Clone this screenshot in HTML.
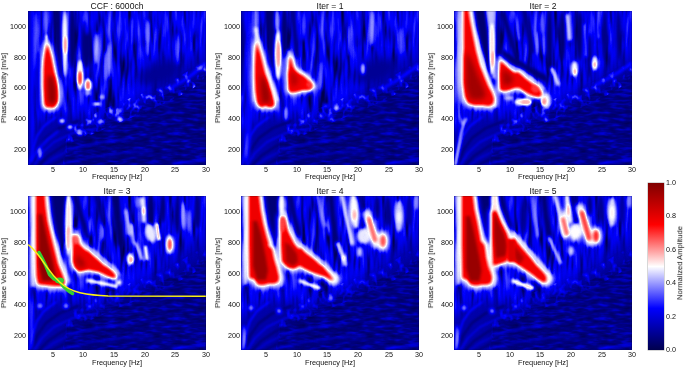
<!DOCTYPE html><html><head><meta charset="utf-8"><style>
html,body{margin:0;padding:0;background:#fff;width:685px;height:368px;overflow:hidden}
body{position:relative;font-family:"Liberation Sans",sans-serif;color:#111}
.pn{position:absolute;display:block}
.t{position:absolute;white-space:nowrap;line-height:1;will-change:transform}
.tk{font-size:7.2px}
.xt{transform:translate(-50%,-50%)}
.yt{transform:translate(-100%,-50%)}
.ttl{font-size:8.6px;transform:translate(-50%,0)}
.xl{font-size:7.4px;transform:translate(-50%,0)}
.yl{font-size:7.8px;transform:translate(-50%,-50%) rotate(-90deg)}
</style></head><body>
<svg width="0" height="0" style="position:absolute"><defs>
<filter id="cm" x="0" y="0" width="100%" height="100%" color-interpolation-filters="sRGB"><feComponentTransfer><feFuncR type="table" tableValues="0 0 1 1 0.5"/><feFuncG type="table" tableValues="0 0 1 0 0"/><feFuncB type="table" tableValues="0.3 1 1 0 0"/></feComponentTransfer><feGaussianBlur stdDeviation="0.45"/></filter>
<filter id="bl1_0" x="-50%" y="-50%" width="200%" height="200%" color-interpolation-filters="sRGB"><feGaussianBlur stdDeviation="1.0"/></filter>
<filter id="bl1_2" x="-50%" y="-50%" width="200%" height="200%" color-interpolation-filters="sRGB"><feGaussianBlur stdDeviation="1.2"/></filter>
<filter id="bl1_3" x="-50%" y="-50%" width="200%" height="200%" color-interpolation-filters="sRGB"><feGaussianBlur stdDeviation="1.3"/></filter>
<filter id="bl1_5" x="-50%" y="-50%" width="200%" height="200%" color-interpolation-filters="sRGB"><feGaussianBlur stdDeviation="1.5"/></filter>
<filter id="bl1_6" x="-50%" y="-50%" width="200%" height="200%" color-interpolation-filters="sRGB"><feGaussianBlur stdDeviation="1.6"/></filter>
<filter id="bl1_8" x="-50%" y="-50%" width="200%" height="200%" color-interpolation-filters="sRGB"><feGaussianBlur stdDeviation="1.8"/></filter>
<filter id="bl2_0" x="-50%" y="-50%" width="200%" height="200%" color-interpolation-filters="sRGB"><feGaussianBlur stdDeviation="2.0"/></filter>
<filter id="bl2_2" x="-50%" y="-50%" width="200%" height="200%" color-interpolation-filters="sRGB"><feGaussianBlur stdDeviation="2.2"/></filter>
<filter id="bl2_5" x="-50%" y="-50%" width="200%" height="200%" color-interpolation-filters="sRGB"><feGaussianBlur stdDeviation="2.5"/></filter>
<filter id="bl2_8" x="-50%" y="-50%" width="200%" height="200%" color-interpolation-filters="sRGB"><feGaussianBlur stdDeviation="2.8"/></filter>
<filter id="bl4" x="-50%" y="-50%" width="200%" height="200%" color-interpolation-filters="sRGB"><feGaussianBlur stdDeviation="4"/></filter>
<filter id="bl5" x="-50%" y="-50%" width="200%" height="200%" color-interpolation-filters="sRGB"><feGaussianBlur stdDeviation="5"/></filter>
<filter id="bl8" x="-50%" y="-50%" width="200%" height="200%" color-interpolation-filters="sRGB"><feGaussianBlur stdDeviation="8"/></filter>
<filter id="nvW" x="0" y="0" width="100%" height="100%" color-interpolation-filters="sRGB"><feTurbulence type="fractalNoise" baseFrequency="0.2 0.028" numOctaves="2" seed="7"/><feColorMatrix type="matrix" values="0 0 0 0 0.35 0 0 0 0 0.35 0 0 0 0 0.35 2.6 0 0 0 -1.3"/></filter>
<filter id="nvB" x="0" y="0" width="100%" height="100%" color-interpolation-filters="sRGB"><feTurbulence type="fractalNoise" baseFrequency="0.2 0.028" numOctaves="2" seed="7"/><feColorMatrix type="matrix" values="0 0 0 0 0.0 0 0 0 0 0.0 0 0 0 0 0.0 -3.5 0 0 0 1.75"/></filter>
<filter id="nhW" x="0" y="0" width="100%" height="100%" color-interpolation-filters="sRGB"><feTurbulence type="fractalNoise" baseFrequency="0.09 0.28" numOctaves="2" seed="11"/><feColorMatrix type="matrix" values="0 0 0 0 0.3 0 0 0 0 0.3 0 0 0 0 0.3 1.6 0 0 0 -0.8"/></filter>
<filter id="nhB" x="0" y="0" width="100%" height="100%" color-interpolation-filters="sRGB"><feTurbulence type="fractalNoise" baseFrequency="0.09 0.28" numOctaves="2" seed="11"/><feColorMatrix type="matrix" values="0 0 0 0 0.0 0 0 0 0 0.0 0 0 0 0 0.0 -2.0 0 0 0 1.0"/></filter>
<filter id="nsW" x="0" y="0" width="100%" height="100%" color-interpolation-filters="sRGB"><feTurbulence type="fractalNoise" baseFrequency="0.16 0.12" numOctaves="2" seed="5"/><feColorMatrix type="matrix" values="0 0 0 0 0.46 0 0 0 0 0.46 0 0 0 0 0.46 3.5 0 0 0 -1.75"/></filter>
</defs></svg>
<svg class="pn" style="left:28.0px;top:10.5px" width="178.0" height="154.2" viewBox="0 0 178.0 154.2">
<defs><clipPath id="cl0"><path d="M-5,159.2 L-5,175 L35,165 L40,125 L63,116 L90,104 L120,92 L150,78 L178,62 L185,58 L183.0,159.2Z"/></clipPath></defs>
<defs><clipPath id="bd0"><path d="M-5,163 L35,153 L40,113 L63,104 L90,92 L120,80 L150,66 L178,50 L185,46 L185,66 L178,70 L150,86 L120,100 L90,112 L63,124 L40,133 L35,173 L-5,183Z"/></clipPath></defs>
<g filter="url(#cm)">
<rect width="178.0" height="154.2" fill="rgb(51,51,51)"/>
<g>
<path d="M-5,-5 L183.0,-5 L183.0,159.2 L-5,159.2Z" fill="rgb(56,56,56)" opacity="1"/>
</g>
<g>
<rect width="178.0" height="154.2" filter="url(#nvW)" opacity="1.0"/>
<rect width="178.0" height="154.2" filter="url(#nvB)" opacity="1.0"/>
</g>
<g filter="url(#bl8)">
<path d="M60,130 L90,100 L120,80 L150,60 L185,35 L185,80 L120,110Z" fill="rgb(36,36,36)" opacity="1"/>
</g>
<g filter="url(#bl5)">
<path d="M-5,159.2 L-5,125 L10,112 L30,104 L60,108 L63,116 L90,104 L120,92 L150,78 L178,62 L185,58 L183.0,159.2Z" fill="rgb(33,33,33)" opacity="1"/>
</g>
<g filter="url(#bl5)">
<path d="M-5,159.2 L-5,175 L35,165 L40,125 L63,116 L90,104 L120,92 L150,78 L178,62 L185,58 L183.0,159.2Z" fill="rgb(20,20,20)" opacity="1"/>
</g>
<g>
<rect width="178.0" height="154.2" filter="url(#nhW)" opacity="1.0" clip-path="url(#cl0)"/>
<rect width="178.0" height="154.2" filter="url(#nhB)" opacity="1.0" clip-path="url(#cl0)"/>
</g>
<g>
<rect width="178.0" height="154.2" filter="url(#nsW)" opacity="0.75" clip-path="url(#bd0)"/>
</g>
<g filter="url(#bl1_2)">
<path d="M3,156 L9,140 L18,127 L32,117 L50,110" fill="none" stroke="rgb(15,15,15)" stroke-width="2.2" stroke-linecap="round" stroke-linejoin="round" opacity="1"/>
<path d="M9,157 L20,145 L35,135 L58,127 L85,122" fill="none" stroke="rgb(15,15,15)" stroke-width="2.2" stroke-linecap="round" stroke-linejoin="round" opacity="1"/>
<path d="M17,158 L34,149 L56,141 L85,136 L115,133" fill="none" stroke="rgb(15,15,15)" stroke-width="2.2" stroke-linecap="round" stroke-linejoin="round" opacity="1"/>
<path d="M28,159 L50,153 L75,148 L105,145 L140,143" fill="none" stroke="rgb(18,18,18)" stroke-width="2" stroke-linecap="round" stroke-linejoin="round" opacity="1"/>
<path d="M1,154 L4,140 L9,125 L16,115 L28,106" fill="none" stroke="rgb(76,76,76)" stroke-width="1.6" stroke-linecap="round" stroke-linejoin="round" opacity="1"/>
<path d="M5,156 L14,142 L26,131 L45,122 L70,117" fill="none" stroke="rgb(61,61,61)" stroke-width="1.5" stroke-linecap="round" stroke-linejoin="round" opacity="1"/>
<path d="M12,157 L26,147 L45,138 L70,132 L100,128" fill="none" stroke="rgb(54,54,54)" stroke-width="1.4" stroke-linecap="round" stroke-linejoin="round" opacity="1"/>
<path d="M22,158 L40,151 L65,146 L95,142 L125,140" fill="none" stroke="rgb(48,48,48)" stroke-width="1.3" stroke-linecap="round" stroke-linejoin="round" opacity="1"/>
<path d="M145,152 L178,149.5" fill="none" stroke="rgb(71,71,71)" stroke-width="1.5" stroke-linecap="round" stroke-linejoin="round" opacity="1"/>
</g>
<g filter="url(#bl1_5)">
<ellipse cx="1" cy="60" rx="1.5" ry="95" fill="rgb(20,20,20)" opacity="1"/>
<ellipse cx="4" cy="60" rx="2.5" ry="95" fill="rgb(64,64,64)" opacity="1"/>
<ellipse cx="8" cy="30" rx="2" ry="30" fill="rgb(87,87,87)" opacity="1"/>
<ellipse cx="10.5" cy="70" rx="2" ry="30" fill="rgb(26,26,26)" opacity="1"/>
<path d="M25,-3 L32,-3 L33,30 L33.5,66 L29,66 L27,30Z" fill="rgb(15,15,15)" opacity="1"/>
<ellipse cx="44.5" cy="27" rx="3.3" ry="30" fill="rgb(15,15,15)" opacity="1"/>
<ellipse cx="58.5" cy="33" rx="5" ry="24" fill="rgb(18,18,18)" opacity="1"/>
<ellipse cx="59" cy="12" rx="1.8" ry="12" fill="rgb(84,84,84)" opacity="1"/>
<ellipse cx="77.5" cy="55" rx="2.2" ry="15" fill="rgb(97,97,97)" opacity="1"/>
<ellipse cx="68.5" cy="37" rx="2.5" ry="16" fill="rgb(112,112,112)" opacity="1"/>
<ellipse cx="18.5" cy="12" rx="2.5" ry="14" fill="rgb(92,92,92)" opacity="1"/>
<ellipse cx="37" cy="32" rx="3.2" ry="34" fill="rgb(128,128,128)" opacity="1"/>
<ellipse cx="120" cy="20" rx="2" ry="12" fill="rgb(87,87,87)" opacity="1"/>
</g>
<g filter="url(#bl1_2)">
<ellipse cx="37.3" cy="34" rx="1.7" ry="9" fill="rgb(153,153,153)" opacity="1"/>
<ellipse cx="52" cy="64" rx="3.8" ry="15" fill="rgb(128,128,128)" opacity="1"/>
<ellipse cx="60" cy="74" rx="3.8" ry="7" fill="rgb(128,128,128)" opacity="1"/>
<path d="M18.5,25 L19,38" fill="none" stroke="rgb(128,128,128)" stroke-width="3" stroke-linecap="round" stroke-linejoin="round" opacity="1"/>
</g>
<g filter="url(#bl1_0)">
<ellipse cx="52" cy="67" rx="2.1" ry="7" fill="rgb(178,178,178)" opacity="1"/>
<ellipse cx="60" cy="74.5" rx="2" ry="4.5" fill="rgb(168,168,168)" opacity="1"/>
</g>
<g filter="url(#bl2_8)">
<path d="M19,33 L21,38 L23,45 L24.5,52 L26.5,62 L28.5,72 L29.5,82 L29.5,90 L27.5,95 L24,97 L21.5,95.5 L19,97 L16.5,94 L16,86 L15.5,74 L15.5,60 L16,50 L17,42Z" fill="rgb(128,128,128)" stroke="rgb(128,128,128)" stroke-width="7.4" stroke-linejoin="round" opacity="1"/>
</g>
<g filter="url(#bl1_5)">
<path d="M19,33 L21,38 L23,45 L24.5,52 L26.5,62 L28.5,72 L29.5,82 L29.5,90 L27.5,95 L24,97 L21.5,95.5 L19,97 L16.5,94 L16,86 L15.5,74 L15.5,60 L16,50 L17,42Z" fill="rgb(199,199,199)" opacity="1"/>
</g>
<g filter="url(#bl2_0)">
<path d="M20,64 L25,66 L28,78 L28,90 L24,94 L20,90 L19.5,75Z" fill="rgb(245,245,245)" opacity="1"/>
</g>
<g filter="url(#bl1_5)">
<ellipse cx="34" cy="110" rx="3" ry="2.5" fill="rgb(128,128,128)" opacity="1"/>
<ellipse cx="42" cy="116" rx="3" ry="2.5" fill="rgb(122,122,122)" opacity="1"/>
<ellipse cx="52" cy="122" rx="3" ry="2.5" fill="rgb(115,115,115)" opacity="1"/>
<ellipse cx="69" cy="93" rx="4" ry="2.5" fill="rgb(128,128,128)" opacity="1"/>
<ellipse cx="72" cy="111" rx="3" ry="2.5" fill="rgb(107,107,107)" opacity="1"/>
<ellipse cx="74" cy="86" rx="3" ry="2" fill="rgb(115,115,115)" opacity="1"/>
<ellipse cx="83" cy="100" rx="3" ry="2.5" fill="rgb(107,107,107)" opacity="1"/>
<ellipse cx="60" cy="82" rx="3" ry="3" fill="rgb(107,107,107)" opacity="1"/>
<ellipse cx="92" cy="108" rx="3.5" ry="2.5" fill="rgb(122,122,122)" opacity="1"/>
<ellipse cx="92" cy="100" rx="2.5" ry="2.5" fill="rgb(102,102,102)" opacity="1"/>
<path d="M3,150 L10,138 L20,128 L30,120" fill="none" stroke="rgb(82,82,82)" stroke-width="2" stroke-linecap="round" stroke-linejoin="round" opacity="1"/>
<ellipse cx="12" cy="142" rx="2" ry="6" fill="rgb(107,107,107)" opacity="1"/>
<path d="M142,77 L155,70 L165,63 L178,52" fill="none" stroke="rgb(84,84,84)" stroke-width="2.5" stroke-linecap="round" stroke-linejoin="round" opacity="1"/>
<ellipse cx="172" cy="57" rx="3" ry="2.5" fill="rgb(102,102,102)" opacity="1"/>
</g>
<g filter="url(#bl4)">
<ellipse cx="132" cy="62" rx="22" ry="12" fill="rgb(26,26,26)" opacity="1" transform="rotate(-20 132 62)"/>
</g>
<g filter="url(#bl1_5)">
<ellipse cx="81" cy="50" rx="2.3" ry="18" fill="rgb(102,102,102)" opacity="1"/>
<ellipse cx="120" cy="28" rx="2" ry="18" fill="rgb(97,97,97)" opacity="1"/>
<ellipse cx="150" cy="38" rx="2" ry="16" fill="rgb(92,92,92)" opacity="1"/>
<ellipse cx="104" cy="20" rx="2" ry="14" fill="rgb(87,87,87)" opacity="1"/>
</g>
</g>

<rect x="0.25" y="0.25" width="177.5" height="153.7" fill="none" stroke="rgba(0,0,0,0.35)" stroke-width="0.5"/>
</svg>
<div class="t ttl" style="left:117.0px;top:1.52px">CCF : 6000ch</div>
<div class="t tk xt" style="left:52.55px;top:169.60px">5</div>
<div class="t tk xt" style="left:83.24px;top:169.60px">10</div>
<div class="t tk xt" style="left:113.93px;top:169.60px">15</div>
<div class="t tk xt" style="left:144.62px;top:169.60px">20</div>
<div class="t tk xt" style="left:175.31px;top:169.60px">25</div>
<div class="t tk xt" style="left:206.00px;top:169.60px">30</div>
<div class="t tk yt" style="left:26.20px;top:150.08px">200</div>
<div class="t tk yt" style="left:26.20px;top:119.24px">400</div>
<div class="t tk yt" style="left:26.20px;top:88.40px">600</div>
<div class="t tk yt" style="left:26.20px;top:57.56px">800</div>
<div class="t tk yt" style="left:26.20px;top:26.72px">1000</div>
<div class="t xl" style="left:117.0px;top:173.38px">Frequency [Hz]</div>
<div class="t yl" style="left:4.25px;top:87.60px">Phase Velocity [m/s]</div>
<svg class="pn" style="left:241.3px;top:10.5px" width="178.0" height="154.2" viewBox="0 0 178.0 154.2">
<defs><clipPath id="cl1"><path d="M-5,159.2 L-5,175 L35,165 L40,125 L63,116 L90,104 L120,92 L150,78 L178,62 L185,58 L183.0,159.2Z"/></clipPath></defs>
<defs><clipPath id="bd1"><path d="M-5,163 L35,153 L40,113 L63,104 L90,92 L120,80 L150,66 L178,50 L185,46 L185,66 L178,70 L150,86 L120,100 L90,112 L63,124 L40,133 L35,173 L-5,183Z"/></clipPath></defs>
<g filter="url(#cm)">
<rect width="178.0" height="154.2" fill="rgb(51,51,51)"/>
<g>
<path d="M-5,-5 L183.0,-5 L183.0,159.2 L-5,159.2Z" fill="rgb(56,56,56)" opacity="1"/>
</g>
<g>
<rect width="178.0" height="154.2" filter="url(#nvW)" opacity="1.0"/>
<rect width="178.0" height="154.2" filter="url(#nvB)" opacity="1.0"/>
</g>
<g filter="url(#bl8)">
<path d="M60,130 L90,100 L120,80 L150,60 L185,35 L185,80 L120,110Z" fill="rgb(36,36,36)" opacity="1"/>
</g>
<g filter="url(#bl5)">
<path d="M-5,159.2 L-5,125 L10,112 L30,104 L60,108 L63,116 L90,104 L120,92 L150,78 L178,62 L185,58 L183.0,159.2Z" fill="rgb(33,33,33)" opacity="1"/>
</g>
<g filter="url(#bl5)">
<path d="M-5,159.2 L-5,175 L35,165 L40,125 L63,116 L90,104 L120,92 L150,78 L178,62 L185,58 L183.0,159.2Z" fill="rgb(20,20,20)" opacity="1"/>
</g>
<g>
<rect width="178.0" height="154.2" filter="url(#nhW)" opacity="1.0" clip-path="url(#cl1)"/>
<rect width="178.0" height="154.2" filter="url(#nhB)" opacity="1.0" clip-path="url(#cl1)"/>
</g>
<g>
<rect width="178.0" height="154.2" filter="url(#nsW)" opacity="0.6" clip-path="url(#bd1)"/>
</g>
<g filter="url(#bl1_2)">
<path d="M3,156 L9,140 L18,127 L32,117 L50,110" fill="none" stroke="rgb(15,15,15)" stroke-width="2.2" stroke-linecap="round" stroke-linejoin="round" opacity="1"/>
<path d="M9,157 L20,145 L35,135 L58,127 L85,122" fill="none" stroke="rgb(15,15,15)" stroke-width="2.2" stroke-linecap="round" stroke-linejoin="round" opacity="1"/>
<path d="M17,158 L34,149 L56,141 L85,136 L115,133" fill="none" stroke="rgb(15,15,15)" stroke-width="2.2" stroke-linecap="round" stroke-linejoin="round" opacity="1"/>
<path d="M28,159 L50,153 L75,148 L105,145 L140,143" fill="none" stroke="rgb(18,18,18)" stroke-width="2" stroke-linecap="round" stroke-linejoin="round" opacity="1"/>
<path d="M1,154 L4,140 L9,125 L16,115 L28,106" fill="none" stroke="rgb(76,76,76)" stroke-width="1.6" stroke-linecap="round" stroke-linejoin="round" opacity="1"/>
<path d="M5,156 L14,142 L26,131 L45,122 L70,117" fill="none" stroke="rgb(61,61,61)" stroke-width="1.5" stroke-linecap="round" stroke-linejoin="round" opacity="1"/>
<path d="M12,157 L26,147 L45,138 L70,132 L100,128" fill="none" stroke="rgb(54,54,54)" stroke-width="1.4" stroke-linecap="round" stroke-linejoin="round" opacity="1"/>
<path d="M22,158 L40,151 L65,146 L95,142 L125,140" fill="none" stroke="rgb(48,48,48)" stroke-width="1.3" stroke-linecap="round" stroke-linejoin="round" opacity="1"/>
<path d="M145,152 L178,149.5" fill="none" stroke="rgb(71,71,71)" stroke-width="1.5" stroke-linecap="round" stroke-linejoin="round" opacity="1"/>
</g>
<g filter="url(#bl1_5)">
<ellipse cx="1" cy="40" rx="2" ry="45" fill="rgb(15,15,15)" opacity="1"/>
<ellipse cx="7.5" cy="70" rx="3" ry="80" fill="rgb(66,66,66)" opacity="1"/>
<ellipse cx="14.5" cy="12" rx="2.2" ry="20" fill="rgb(102,102,102)" opacity="1"/>
<path d="M24,-3 L33,-3 L35,20 L36,45 L35,62 L30,55 L27,35Z" fill="rgb(15,15,15)" opacity="1"/>
<ellipse cx="37" cy="43" rx="4" ry="26" fill="rgb(133,133,133)" opacity="1"/>
<ellipse cx="36" cy="10" rx="2.8" ry="12" fill="rgb(102,102,102)" opacity="1"/>
<ellipse cx="43.5" cy="22" rx="3.5" ry="25" fill="rgb(15,15,15)" opacity="1"/>
<path d="M52,0 L54,25 L56,45" fill="none" stroke="rgb(18,18,18)" stroke-width="4" stroke-linecap="round" stroke-linejoin="round" opacity="1"/>
<ellipse cx="62" cy="15" rx="2" ry="15" fill="rgb(87,87,87)" opacity="1"/>
<ellipse cx="80" cy="65" rx="2" ry="15" fill="rgb(97,97,97)" opacity="1"/>
<ellipse cx="44.7" cy="103" rx="2" ry="7" fill="rgb(107,107,107)" opacity="1"/>
<ellipse cx="80" cy="105" rx="2.5" ry="2" fill="rgb(102,102,102)" opacity="1"/>
<ellipse cx="85" cy="95" rx="2.5" ry="2" fill="rgb(102,102,102)" opacity="1"/>
<ellipse cx="5" cy="138" rx="1.5" ry="17" fill="rgb(87,87,87)" opacity="1"/>
<ellipse cx="131" cy="17" rx="2" ry="18" fill="rgb(92,92,92)" opacity="1"/>
<ellipse cx="122" cy="60" rx="2" ry="5" fill="rgb(107,107,107)" opacity="1"/>
<path d="M142,77 L155,70 L165,63 L178,54" fill="none" stroke="rgb(84,84,84)" stroke-width="2.5" stroke-linecap="round" stroke-linejoin="round" opacity="1"/>
<ellipse cx="95.6" cy="97" rx="2.5" ry="3" fill="rgb(120,120,120)" opacity="1"/>
<ellipse cx="90" cy="108" rx="2.5" ry="2" fill="rgb(102,102,102)" opacity="1"/>
</g>
<g filter="url(#bl1_2)">
<ellipse cx="37.5" cy="43" rx="1.9" ry="13" fill="rgb(153,153,153)" opacity="1"/>
</g>
<g filter="url(#bl1_8)">
<path d="M15,18 L17,30 L20,42 L24,54 L28.5,66 L32.5,78 L36,89" fill="none" stroke="rgb(128,128,128)" stroke-width="4" stroke-linecap="round" stroke-linejoin="round" opacity="1"/>
<path d="M47.5,40 L51,50 L55,58 L61,61 L66,65.5 L70.5,70 L73.5,76" fill="none" stroke="rgb(128,128,128)" stroke-width="2.5" stroke-linecap="round" stroke-linejoin="round" opacity="1"/>
<path d="M13,34 L12.5,60 L13,90" fill="none" stroke="rgb(128,128,128)" stroke-width="1.5" stroke-linecap="round" stroke-linejoin="round" opacity="1"/>
</g>
<g filter="url(#bl2_8)">
<path d="M15.5,31 L17,36 L19,42 L22,54 L25,66 L28,77 L32,88 L33.5,93 L32,96 L27,96 L24.5,93.5 L22,96 L18.5,95.5 L16,91 L14.5,80 L14,66 L14,54 L14.5,42Z" fill="rgb(128,128,128)" stroke="rgb(128,128,128)" stroke-width="7.4" stroke-linejoin="round" opacity="1"/>
</g>
<g filter="url(#bl1_5)">
<path d="M15.5,31 L17,36 L19,42 L22,54 L25,66 L28,77 L32,88 L33.5,93 L32,96 L27,96 L24.5,93.5 L22,96 L18.5,95.5 L16,91 L14.5,80 L14,66 L14,54 L14.5,42Z" fill="rgb(201,201,201)" opacity="1"/>
</g>
<g filter="url(#bl2_5)">
<path d="M19.5,63 L25,70 L29,82 L29,92 L21,92 L19.5,78Z" fill="rgb(242,242,242)" opacity="1"/>
</g>
<g filter="url(#bl2_8)">
<path d="M48.5,45.5 L50.5,49 L52,55 L54.5,60 L58.5,63 L62,64.5 L66.5,68.5 L70,72.5 L71.5,76.5 L68,79 L62,79 L55,81 L49.5,81.5 L47.5,79 L47.5,60Z" fill="rgb(128,128,128)" stroke="rgb(128,128,128)" stroke-width="7.0" stroke-linejoin="round" opacity="1"/>
</g>
<g filter="url(#bl1_5)">
<path d="M48.5,45.5 L50.5,49 L52,55 L54.5,60 L58.5,63 L62,64.5 L66.5,68.5 L70,72.5 L71.5,76.5 L68,79 L62,79 L55,81 L49.5,81.5 L47.5,79 L47.5,60Z" fill="rgb(199,199,199)" opacity="1"/>
</g>
<g filter="url(#bl2_5)">
<path d="M49,60 L55,64 L57,72 L51,76Z" fill="rgb(230,230,230)" opacity="1"/>
</g>
<g filter="url(#bl1_5)">
<ellipse cx="68" cy="74" rx="3.5" ry="3" fill="rgb(178,178,178)" opacity="1" transform="rotate(40 68 74)"/>
</g>
<g filter="url(#bl4)">
<ellipse cx="135" cy="60" rx="22" ry="12" fill="rgb(26,26,26)" opacity="1" transform="rotate(-20 135 60)"/>
</g>
<g filter="url(#bl1_5)">
<ellipse cx="131" cy="17" rx="2.3" ry="18" fill="rgb(102,102,102)" opacity="1"/>
<ellipse cx="122" cy="58" rx="2.3" ry="6" fill="rgb(115,115,115)" opacity="1"/>
<ellipse cx="108" cy="30" rx="2" ry="15" fill="rgb(89,89,89)" opacity="1"/>
<ellipse cx="160" cy="30" rx="2" ry="14" fill="rgb(89,89,89)" opacity="1"/>
</g>
</g>

<rect x="0.25" y="0.25" width="177.5" height="153.7" fill="none" stroke="rgba(0,0,0,0.35)" stroke-width="0.5"/>
</svg>
<div class="t ttl" style="left:330.3px;top:1.52px">Iter = 1</div>
<div class="t tk xt" style="left:265.85px;top:169.60px">5</div>
<div class="t tk xt" style="left:296.54px;top:169.60px">10</div>
<div class="t tk xt" style="left:327.23px;top:169.60px">15</div>
<div class="t tk xt" style="left:357.92px;top:169.60px">20</div>
<div class="t tk xt" style="left:388.61px;top:169.60px">25</div>
<div class="t tk xt" style="left:419.30px;top:169.60px">30</div>
<div class="t tk yt" style="left:239.50px;top:150.08px">200</div>
<div class="t tk yt" style="left:239.50px;top:119.24px">400</div>
<div class="t tk yt" style="left:239.50px;top:88.40px">600</div>
<div class="t tk yt" style="left:239.50px;top:57.56px">800</div>
<div class="t tk yt" style="left:239.50px;top:26.72px">1000</div>
<div class="t xl" style="left:330.3px;top:173.38px">Frequency [Hz]</div>
<div class="t yl" style="left:217.55px;top:87.60px">Phase Velocity [m/s]</div>
<svg class="pn" style="left:454.4px;top:10.5px" width="178.0" height="154.2" viewBox="0 0 178.0 154.2">
<defs><clipPath id="cl2"><path d="M-5,159.2 L-5,175 L35,165 L40,125 L63,116 L90,104 L120,92 L150,78 L178,62 L185,58 L183.0,159.2Z"/></clipPath></defs>
<defs><clipPath id="bd2"><path d="M-5,163 L35,153 L40,113 L63,104 L90,92 L120,80 L150,66 L178,50 L185,46 L185,66 L178,70 L150,86 L120,100 L90,112 L63,124 L40,133 L35,173 L-5,183Z"/></clipPath></defs>
<g filter="url(#cm)">
<rect width="178.0" height="154.2" fill="rgb(51,51,51)"/>
<g>
<path d="M-5,-5 L183.0,-5 L183.0,159.2 L-5,159.2Z" fill="rgb(56,56,56)" opacity="1"/>
</g>
<g>
<rect width="178.0" height="154.2" filter="url(#nvW)" opacity="1.0"/>
<rect width="178.0" height="154.2" filter="url(#nvB)" opacity="1.0"/>
</g>
<g filter="url(#bl8)">
<path d="M60,130 L90,100 L120,80 L150,60 L185,35 L185,80 L120,110Z" fill="rgb(36,36,36)" opacity="1"/>
</g>
<g filter="url(#bl5)">
<path d="M-5,159.2 L-5,125 L10,112 L30,104 L60,108 L63,116 L90,104 L120,92 L150,78 L178,62 L185,58 L183.0,159.2Z" fill="rgb(33,33,33)" opacity="1"/>
</g>
<g filter="url(#bl5)">
<path d="M-5,159.2 L-5,175 L35,165 L40,125 L63,116 L90,104 L120,92 L150,78 L178,62 L185,58 L183.0,159.2Z" fill="rgb(20,20,20)" opacity="1"/>
</g>
<g>
<rect width="178.0" height="154.2" filter="url(#nhW)" opacity="1.0" clip-path="url(#cl2)"/>
<rect width="178.0" height="154.2" filter="url(#nhB)" opacity="1.0" clip-path="url(#cl2)"/>
</g>
<g>
<rect width="178.0" height="154.2" filter="url(#nsW)" opacity="0.6" clip-path="url(#bd2)"/>
</g>
<g filter="url(#bl1_2)">
<path d="M3,156 L9,140 L18,127 L32,117 L50,110" fill="none" stroke="rgb(15,15,15)" stroke-width="2.2" stroke-linecap="round" stroke-linejoin="round" opacity="1"/>
<path d="M9,157 L20,145 L35,135 L58,127 L85,122" fill="none" stroke="rgb(15,15,15)" stroke-width="2.2" stroke-linecap="round" stroke-linejoin="round" opacity="1"/>
<path d="M17,158 L34,149 L56,141 L85,136 L115,133" fill="none" stroke="rgb(15,15,15)" stroke-width="2.2" stroke-linecap="round" stroke-linejoin="round" opacity="1"/>
<path d="M28,159 L50,153 L75,148 L105,145 L140,143" fill="none" stroke="rgb(18,18,18)" stroke-width="2" stroke-linecap="round" stroke-linejoin="round" opacity="1"/>
<path d="M1,154 L4,140 L9,125 L16,115 L28,106" fill="none" stroke="rgb(76,76,76)" stroke-width="1.6" stroke-linecap="round" stroke-linejoin="round" opacity="1"/>
<path d="M5,156 L14,142 L26,131 L45,122 L70,117" fill="none" stroke="rgb(61,61,61)" stroke-width="1.5" stroke-linecap="round" stroke-linejoin="round" opacity="1"/>
<path d="M12,157 L26,147 L45,138 L70,132 L100,128" fill="none" stroke="rgb(54,54,54)" stroke-width="1.4" stroke-linecap="round" stroke-linejoin="round" opacity="1"/>
<path d="M22,158 L40,151 L65,146 L95,142 L125,140" fill="none" stroke="rgb(48,48,48)" stroke-width="1.3" stroke-linecap="round" stroke-linejoin="round" opacity="1"/>
<path d="M145,152 L178,149.5" fill="none" stroke="rgb(71,71,71)" stroke-width="1.5" stroke-linecap="round" stroke-linejoin="round" opacity="1"/>
</g>
<g filter="url(#bl1_5)">
<ellipse cx="5" cy="48" rx="2.6" ry="55" fill="rgb(107,107,107)" opacity="1"/>
<path d="M1.5,154 L4,140 L6.5,125 L9,115 L12,108" fill="none" stroke="rgb(122,122,122)" stroke-width="3" stroke-linecap="round" stroke-linejoin="round" opacity="1"/>
<path d="M5,95 L5.5,105 L8,113" fill="none" stroke="rgb(102,102,102)" stroke-width="3" stroke-linecap="round" stroke-linejoin="round" opacity="1"/>
<path d="M20,-3 L31,-3 L34,20 L38,45 L41,70 L40,80 L35,62 L28,40 L23,20Z" fill="rgb(13,13,13)" opacity="1"/>
<path d="M31,-3 L42,-3 L41,20 L41,50 L42,68 L38,68 L36,45 L34,20Z" fill="rgb(112,112,112)" opacity="1"/>
<ellipse cx="44.5" cy="38" rx="2.2" ry="40" fill="rgb(15,15,15)" opacity="1"/>
<path d="M49,3 L55,22 L62,45" fill="none" stroke="rgb(18,18,18)" stroke-width="5" stroke-linecap="round" stroke-linejoin="round" opacity="1"/>
<path d="M60,0 L63,15 L65,28" fill="none" stroke="rgb(92,92,92)" stroke-width="3" stroke-linecap="round" stroke-linejoin="round" opacity="1"/>
<path d="M70,0 L74,20 L78,40" fill="none" stroke="rgb(23,23,23)" stroke-width="5" stroke-linecap="round" stroke-linejoin="round" opacity="1"/>
<ellipse cx="83" cy="32" rx="2" ry="12" fill="rgb(97,97,97)" opacity="1"/>
<ellipse cx="88" cy="12" rx="2" ry="12" fill="rgb(92,92,92)" opacity="1"/>
<ellipse cx="95.5" cy="28" rx="3" ry="30" fill="rgb(15,15,15)" opacity="1"/>
<ellipse cx="108.5" cy="25" rx="3" ry="25" fill="rgb(15,15,15)" opacity="1"/>
<ellipse cx="125.5" cy="25" rx="3" ry="25" fill="rgb(15,15,15)" opacity="1"/>
<ellipse cx="135.5" cy="45" rx="2" ry="22" fill="rgb(18,18,18)" opacity="1"/>
<ellipse cx="150.8" cy="25" rx="2.5" ry="25" fill="rgb(18,18,18)" opacity="1"/>
<ellipse cx="164.7" cy="25" rx="2.5" ry="25" fill="rgb(20,20,20)" opacity="1"/>
<path d="M113.5,5 L114.5,15 L115.5,28" fill="none" stroke="rgb(120,120,120)" stroke-width="4.5" stroke-linecap="round" stroke-linejoin="round" opacity="1"/>
<ellipse cx="120.5" cy="58" rx="3.5" ry="8" fill="rgb(128,128,128)" opacity="1"/>
<ellipse cx="140.7" cy="52.5" rx="3.5" ry="7.5" fill="rgb(128,128,128)" opacity="1"/>
<path d="M130.5,14 L131.5,30 L132,45" fill="none" stroke="rgb(102,102,102)" stroke-width="3" stroke-linecap="round" stroke-linejoin="round" opacity="1"/>
<path d="M144,0 L144,13 L144.5,27" fill="none" stroke="rgb(97,97,97)" stroke-width="3" stroke-linecap="round" stroke-linejoin="round" opacity="1"/>
<path d="M98,58 L101,65 L104,73" fill="none" stroke="rgb(122,122,122)" stroke-width="4.5" stroke-linecap="round" stroke-linejoin="round" opacity="1"/>
<ellipse cx="90" cy="34" rx="2" ry="11" fill="rgb(92,92,92)" opacity="1"/>
<ellipse cx="92" cy="108" rx="2.5" ry="2" fill="rgb(107,107,107)" opacity="1"/>
<path d="M142,74 L155,67 L165,61 L178,52" fill="none" stroke="rgb(84,84,84)" stroke-width="2.5" stroke-linecap="round" stroke-linejoin="round" opacity="1"/>
</g>
<g filter="url(#bl1_2)">
<ellipse cx="38" cy="38" rx="3" ry="26" fill="rgb(133,133,133)" opacity="1"/>
<ellipse cx="39" cy="48" rx="1.8" ry="8" fill="rgb(153,153,153)" opacity="1"/>
<ellipse cx="121" cy="60.7" rx="1.3" ry="3" fill="rgb(153,153,153)" opacity="1"/>
<ellipse cx="140.7" cy="53.8" rx="1.3" ry="3" fill="rgb(153,153,153)" opacity="1"/>
</g>
<g filter="url(#bl1_8)">
<path d="M16,-2 L19,15 L23,30 L27,45 L31,60 L35,72 L39,82 L41,95" fill="none" stroke="rgb(128,128,128)" stroke-width="4" stroke-linecap="round" stroke-linejoin="round" opacity="1"/>
<path d="M45,45.5 L51,49.5 L57,54.5 L63,57 L67,59.5 L74,65 L82,70.5 L90,78" fill="none" stroke="rgb(128,128,128)" stroke-width="2.2" stroke-linecap="round" stroke-linejoin="round" opacity="1"/>
<ellipse cx="69" cy="91" rx="9" ry="4" fill="rgb(133,133,133)" opacity="1"/>
<ellipse cx="55" cy="87" rx="5" ry="2" fill="rgb(115,115,115)" opacity="1"/>
<ellipse cx="92" cy="90" rx="5" ry="8" fill="rgb(122,122,122)" opacity="1"/>
<path d="M8.5,0 L8.5,92" fill="none" stroke="rgb(128,128,128)" stroke-width="1.5" stroke-linecap="round" stroke-linejoin="round" opacity="1"/>
</g>
<g filter="url(#bl1_2)">
<ellipse cx="72" cy="91" rx="5" ry="2.5" fill="rgb(148,148,148)" opacity="1"/>
<ellipse cx="90" cy="90" rx="2.5" ry="4" fill="rgb(158,158,158)" opacity="1"/>
</g>
<g filter="url(#bl2_8)">
<path d="M10,-3 L14,-3 L16,10 L19,25 L22,40 L26,55 L30,65 L34,75 L38,82 L40,88 L39,93 L35,95 L28,94 L20,94 L14,92 L11,85 L10,70 L10,50 L10,20Z" fill="rgb(128,128,128)" stroke="rgb(128,128,128)" stroke-width="8.0" stroke-linejoin="round" opacity="1"/>
</g>
<g filter="url(#bl1_5)">
<path d="M10,-3 L14,-3 L16,10 L19,25 L22,40 L26,55 L30,65 L34,75 L38,82 L40,88 L39,93 L35,95 L28,94 L20,94 L14,92 L11,85 L10,70 L10,50 L10,20Z" fill="rgb(199,199,199)" opacity="1"/>
</g>
<g filter="url(#bl2_5)">
<path d="M12,40 L18,50 L24,65 L30,78 L32,86 L25,89 L16,88 L12,75Z" fill="rgb(237,237,237)" opacity="1"/>
</g>
<g filter="url(#bl1_5)">
<path d="M48,38 L60,46 L75,55 L92,64 L95,72 L85,68 L72,60 L58,54 L48,48Z" fill="rgb(15,15,15)" opacity="1"/>
</g>
<g filter="url(#bl2_8)">
<path d="M46,49.5 L50,53 L55,58 L60,62 L64,61 L68,64.5 L72,68 L76,71 L80,74 L84,77.5 L87,80.5 L88,84 L85,86 L80,85 L75,83 L70,80 L65,76.5 L60,77 L55,79 L50,80 L46,79Z" fill="rgb(128,128,128)" stroke="rgb(128,128,128)" stroke-width="7.4" stroke-linejoin="round" opacity="1"/>
</g>
<g filter="url(#bl1_5)">
<path d="M46,49.5 L50,53 L55,58 L60,62 L64,61 L68,64.5 L72,68 L76,71 L80,74 L84,77.5 L87,80.5 L88,84 L85,86 L80,85 L75,83 L70,80 L65,76.5 L60,77 L55,79 L50,80 L46,79Z" fill="rgb(199,199,199)" opacity="1"/>
</g>
<g filter="url(#bl2_5)">
<path d="M48,58 L55,62 L60,68 L56,74 L49,74Z" fill="rgb(235,235,235)" opacity="1"/>
</g>
<g filter="url(#bl1_5)">
<ellipse cx="81" cy="78" rx="5" ry="4" fill="rgb(178,178,178)" opacity="1" transform="rotate(40 81 78)"/>
</g>
</g>

<rect x="0.25" y="0.25" width="177.5" height="153.7" fill="none" stroke="rgba(0,0,0,0.35)" stroke-width="0.5"/>
</svg>
<div class="t ttl" style="left:543.4px;top:1.52px">Iter = 2</div>
<div class="t tk xt" style="left:478.95px;top:169.60px">5</div>
<div class="t tk xt" style="left:509.64px;top:169.60px">10</div>
<div class="t tk xt" style="left:540.33px;top:169.60px">15</div>
<div class="t tk xt" style="left:571.02px;top:169.60px">20</div>
<div class="t tk xt" style="left:601.71px;top:169.60px">25</div>
<div class="t tk xt" style="left:632.40px;top:169.60px">30</div>
<div class="t tk yt" style="left:452.60px;top:150.08px">200</div>
<div class="t tk yt" style="left:452.60px;top:119.24px">400</div>
<div class="t tk yt" style="left:452.60px;top:88.40px">600</div>
<div class="t tk yt" style="left:452.60px;top:57.56px">800</div>
<div class="t tk yt" style="left:452.60px;top:26.72px">1000</div>
<div class="t xl" style="left:543.4px;top:173.38px">Frequency [Hz]</div>
<div class="t yl" style="left:430.65px;top:87.60px">Phase Velocity [m/s]</div>
<svg class="pn" style="left:28.0px;top:196.0px" width="178.0" height="154.2" viewBox="0 0 178.0 154.2">
<defs><clipPath id="cl3"><path d="M-5,159.2 L-5,175 L35,165 L40,125 L63,116 L90,104 L120,92 L150,78 L178,62 L185,58 L183.0,159.2Z"/></clipPath></defs>
<defs><clipPath id="bd3"><path d="M-5,163 L35,153 L40,113 L63,104 L90,92 L120,80 L150,66 L178,50 L185,46 L185,66 L178,70 L150,86 L120,100 L90,112 L63,124 L40,133 L35,173 L-5,183Z"/></clipPath></defs>
<g filter="url(#cm)">
<rect width="178.0" height="154.2" fill="rgb(51,51,51)"/>
<g>
<path d="M-5,-5 L183.0,-5 L183.0,159.2 L-5,159.2Z" fill="rgb(56,56,56)" opacity="1"/>
</g>
<g>
<rect width="178.0" height="154.2" filter="url(#nvW)" opacity="1.0"/>
<rect width="178.0" height="154.2" filter="url(#nvB)" opacity="1.0"/>
</g>
<g filter="url(#bl8)">
<path d="M60,130 L90,100 L120,80 L150,60 L185,35 L185,80 L120,110Z" fill="rgb(36,36,36)" opacity="1"/>
</g>
<g filter="url(#bl5)">
<path d="M-5,159.2 L-5,125 L10,112 L30,104 L60,108 L63,116 L90,104 L120,92 L150,78 L178,62 L185,58 L183.0,159.2Z" fill="rgb(33,33,33)" opacity="1"/>
</g>
<g filter="url(#bl5)">
<path d="M-5,159.2 L-5,175 L35,165 L40,125 L63,116 L90,104 L120,92 L150,78 L178,62 L185,58 L183.0,159.2Z" fill="rgb(20,20,20)" opacity="1"/>
</g>
<g>
<rect width="178.0" height="154.2" filter="url(#nhW)" opacity="1.0" clip-path="url(#cl3)"/>
<rect width="178.0" height="154.2" filter="url(#nhB)" opacity="1.0" clip-path="url(#cl3)"/>
</g>
<g>
<rect width="178.0" height="154.2" filter="url(#nsW)" opacity="0.45" clip-path="url(#bd3)"/>
</g>
<g filter="url(#bl1_2)">
<path d="M3,156 L9,140 L18,127 L32,117 L50,110" fill="none" stroke="rgb(15,15,15)" stroke-width="2.2" stroke-linecap="round" stroke-linejoin="round" opacity="1"/>
<path d="M9,157 L20,145 L35,135 L58,127 L85,122" fill="none" stroke="rgb(15,15,15)" stroke-width="2.2" stroke-linecap="round" stroke-linejoin="round" opacity="1"/>
<path d="M17,158 L34,149 L56,141 L85,136 L115,133" fill="none" stroke="rgb(15,15,15)" stroke-width="2.2" stroke-linecap="round" stroke-linejoin="round" opacity="1"/>
<path d="M28,159 L50,153 L75,148 L105,145 L140,143" fill="none" stroke="rgb(18,18,18)" stroke-width="2" stroke-linecap="round" stroke-linejoin="round" opacity="1"/>
<path d="M1,154 L4,140 L9,125 L16,115 L28,106" fill="none" stroke="rgb(76,76,76)" stroke-width="1.6" stroke-linecap="round" stroke-linejoin="round" opacity="1"/>
<path d="M5,156 L14,142 L26,131 L45,122 L70,117" fill="none" stroke="rgb(61,61,61)" stroke-width="1.5" stroke-linecap="round" stroke-linejoin="round" opacity="1"/>
<path d="M12,157 L26,147 L45,138 L70,132 L100,128" fill="none" stroke="rgb(54,54,54)" stroke-width="1.4" stroke-linecap="round" stroke-linejoin="round" opacity="1"/>
<path d="M22,158 L40,151 L65,146 L95,142 L125,140" fill="none" stroke="rgb(48,48,48)" stroke-width="1.3" stroke-linecap="round" stroke-linejoin="round" opacity="1"/>
<path d="M145,152 L178,149.5" fill="none" stroke="rgb(71,71,71)" stroke-width="1.5" stroke-linecap="round" stroke-linejoin="round" opacity="1"/>
</g>
<g filter="url(#bl1_5)">
<ellipse cx="1" cy="77" rx="1.5" ry="85" fill="rgb(64,64,64)" opacity="1"/>
<path d="M20,-3 L38,-3 L40,20 L38,45 L33,50 L26,35Z" fill="rgb(15,15,15)" opacity="1"/>
<path d="M47,0 L53,20 L60,40" fill="none" stroke="rgb(18,18,18)" stroke-width="5" stroke-linecap="round" stroke-linejoin="round" opacity="1"/>
<path d="M68,0 L75,25" fill="none" stroke="rgb(20,20,20)" stroke-width="4" stroke-linecap="round" stroke-linejoin="round" opacity="1"/>
<ellipse cx="62" cy="30" rx="2" ry="10" fill="rgb(97,97,97)" opacity="1"/>
<ellipse cx="75" cy="37" rx="2" ry="8" fill="rgb(97,97,97)" opacity="1"/>
<path d="M88,0 L90,25 L93,47" fill="none" stroke="rgb(13,13,13)" stroke-width="7" stroke-linecap="round" stroke-linejoin="round" opacity="1"/>
<ellipse cx="123" cy="14" rx="3" ry="15" fill="rgb(15,15,15)" opacity="1"/>
<ellipse cx="135" cy="13" rx="2.5" ry="14" fill="rgb(15,15,15)" opacity="1"/>
<ellipse cx="110" cy="6" rx="3" ry="6" fill="rgb(92,92,92)" opacity="1"/>
<ellipse cx="149.5" cy="18" rx="2.5" ry="20" fill="rgb(18,18,18)" opacity="1"/>
<ellipse cx="169.5" cy="15" rx="3" ry="17" fill="rgb(20,20,20)" opacity="1"/>
<ellipse cx="155" cy="20" rx="2.5" ry="14" fill="rgb(107,107,107)" opacity="1"/>
<ellipse cx="161" cy="25" rx="2" ry="12" fill="rgb(97,97,97)" opacity="1"/>
<path d="M98,15 L100,27 L101,38" fill="none" stroke="rgb(112,112,112)" stroke-width="4" stroke-linecap="round" stroke-linejoin="round" opacity="1"/>
<path d="M114.5,3 L115.5,14 L116,25" fill="none" stroke="rgb(128,128,128)" stroke-width="4.5" stroke-linecap="round" stroke-linejoin="round" opacity="1"/>
<ellipse cx="122.5" cy="37" rx="5.5" ry="10" fill="rgb(122,122,122)" opacity="1" transform="rotate(-15 122.5 37)"/>
<path d="M104,29 L105,38 L106,47" fill="none" stroke="rgb(117,117,117)" stroke-width="3.5" stroke-linecap="round" stroke-linejoin="round" opacity="1"/>
<ellipse cx="102" cy="63" rx="4" ry="6.5" fill="rgb(128,128,128)" opacity="1"/>
<path d="M108,48 L111,55 L114,63" fill="none" stroke="rgb(117,117,117)" stroke-width="4" stroke-linecap="round" stroke-linejoin="round" opacity="1"/>
<ellipse cx="141.7" cy="48.5" rx="4.5" ry="10" fill="rgb(128,128,128)" opacity="1"/>
<ellipse cx="12" cy="110" rx="3" ry="3" fill="rgb(97,97,97)" opacity="1"/>
<ellipse cx="38" cy="110" rx="3" ry="3" fill="rgb(97,97,97)" opacity="1"/>
<ellipse cx="4" cy="128" rx="1.5" ry="27" fill="rgb(84,84,84)" opacity="1"/>
</g>
<g filter="url(#bl1_2)">
<ellipse cx="115.6" cy="15" rx="1.2" ry="4" fill="rgb(153,153,153)" opacity="1"/>
<path d="M129,29 L131,43" fill="none" stroke="rgb(153,153,153)" stroke-width="3.5" stroke-linecap="round" stroke-linejoin="round" opacity="1"/>
<ellipse cx="141.8" cy="48.5" rx="2" ry="5.5" fill="rgb(173,173,173)" opacity="1"/>
<ellipse cx="103.2" cy="63.8" rx="1.5" ry="3" fill="rgb(158,158,158)" opacity="1"/>
<path d="M117.5,51 L119,63" fill="none" stroke="rgb(140,140,140)" stroke-width="3" stroke-linecap="round" stroke-linejoin="round" opacity="1"/>
</g>
<g filter="url(#bl1_8)">
<path d="M18,-2 L20,15 L22,30 L26,45 L31,60 L36,72 L40,85" fill="none" stroke="rgb(128,128,128)" stroke-width="3" stroke-linecap="round" stroke-linejoin="round" opacity="1"/>
<path d="M5,-2 L5,90" fill="none" stroke="rgb(133,133,133)" stroke-width="3.5" stroke-linecap="round" stroke-linejoin="round" opacity="1"/>
<path d="M47,33 L50,40 L54,47 L58,51 L62,52.5 L67,56 L72,60 L78,66 L82,68 L86,72 L91,78" fill="none" stroke="rgb(128,128,128)" stroke-width="2" stroke-linecap="round" stroke-linejoin="round" opacity="1"/>
</g>
<g filter="url(#bl2_8)">
<path d="M8,-3 L16.5,-3 L17.5,10 L19.5,25 L23,40 L26.5,54 L30,68 L35,80 L37,87 L34,90 L28,90 L18,89 L10,88 L8.5,80 L8,50 L8,20Z" fill="rgb(128,128,128)" stroke="rgb(128,128,128)" stroke-width="9" stroke-linejoin="round" opacity="1"/>
</g>
<g filter="url(#bl1_5)">
<path d="M8,-3 L16.5,-3 L17.5,10 L19.5,25 L23,40 L26.5,54 L30,68 L35,80 L37,87 L34,90 L28,90 L18,89 L10,88 L8.5,80 L8,50 L8,20Z" fill="rgb(199,199,199)" opacity="1"/>
</g>
<g filter="url(#bl1_8)">
<path d="M10.5,18 L14,18 L17,32 L21,50 L25,66 L28,80 L24,85 L14,85 L11,70Z" fill="rgb(247,247,247)" opacity="1"/>
</g>
<g filter="url(#bl1_5)">
<ellipse cx="40.5" cy="28" rx="4" ry="32" fill="rgb(133,133,133)" opacity="1"/>
</g>
<g filter="url(#bl1_3)">
<ellipse cx="40.5" cy="42" rx="1.8" ry="12" fill="rgb(153,153,153)" opacity="1"/>
</g>
<g filter="url(#bl2_8)">
<path d="M45,38.5 L47.5,41 L51.5,48.5 L57,54 L60.6,55.5 L65.3,60 L70,64 L75.8,69.5 L79.6,71.5 L84,75 L87,78.5 L88,81 L87,82 L84,81.5 L79.6,80 L76,78 L70,75.4 L65,74.5 L60.6,73.5 L55,74.5 L51,75.4 L46.5,71 L45,65 L45,50Z" fill="rgb(128,128,128)" stroke="rgb(128,128,128)" stroke-width="7.0" stroke-linejoin="round" opacity="1"/>
</g>
<g filter="url(#bl1_5)">
<path d="M45,38.5 L47.5,41 L51.5,48.5 L57,54 L60.6,55.5 L65.3,60 L70,64 L75.8,69.5 L79.6,71.5 L84,75 L87,78.5 L88,81 L87,82 L84,81.5 L79.6,80 L76,78 L70,75.4 L65,74.5 L60.6,73.5 L55,74.5 L51,75.4 L46.5,71 L45,65 L45,50Z" fill="rgb(201,201,201)" opacity="1"/>
</g>
<g filter="url(#bl2_5)">
<path d="M49,58 L55,64 L58,70 L52,72 L48,66Z" fill="rgb(235,235,235)" opacity="1"/>
</g>
<g filter="url(#bl1_5)">
<ellipse cx="48" cy="44" rx="3" ry="5" fill="rgb(168,168,168)" opacity="1"/>
</g>
<g filter="url(#bl1_5)">
<path d="M60,84.5 L70,86.5 L80,88.5 L88,90.5" fill="none" stroke="rgb(140,140,140)" stroke-width="4" stroke-linecap="round" stroke-linejoin="round" opacity="1"/>
<ellipse cx="90.8" cy="86.6" rx="2.5" ry="2.5" fill="rgb(143,143,143)" opacity="1"/>
</g>
</g>
<path d="M11,56.5 L14,62 L18,70 L21.4,78.5 L26,83 L31,85 L35,90 L40,94.5 L44.5,97.5" fill="none" stroke="rgb(50,205,50)" stroke-width="3.4" stroke-linecap="round" stroke-linejoin="round"/><ellipse cx="31.5" cy="84.5" rx="4.5" ry="3" fill="rgb(50,205,50)"/><path d="M0,48.5 C5,52 10,58 17,68.4 C21,74 24,79 31.9,86.3 C37,91 44,95 52,96.8 C60,98.5 66,99.5 80,100 L178,100.2" fill="none" stroke="rgb(250,240,20)" stroke-width="1.5"/>
<rect x="0.25" y="0.25" width="177.5" height="153.7" fill="none" stroke="rgba(0,0,0,0.35)" stroke-width="0.5"/>
</svg>
<div class="t ttl" style="left:117.0px;top:187.02px">Iter = 3</div>
<div class="t tk xt" style="left:52.55px;top:355.10px">5</div>
<div class="t tk xt" style="left:83.24px;top:355.10px">10</div>
<div class="t tk xt" style="left:113.93px;top:355.10px">15</div>
<div class="t tk xt" style="left:144.62px;top:355.10px">20</div>
<div class="t tk xt" style="left:175.31px;top:355.10px">25</div>
<div class="t tk xt" style="left:206.00px;top:355.10px">30</div>
<div class="t tk yt" style="left:26.20px;top:335.58px">200</div>
<div class="t tk yt" style="left:26.20px;top:304.74px">400</div>
<div class="t tk yt" style="left:26.20px;top:273.90px">600</div>
<div class="t tk yt" style="left:26.20px;top:243.06px">800</div>
<div class="t tk yt" style="left:26.20px;top:212.22px">1000</div>
<div class="t xl" style="left:117.0px;top:358.88px">Frequency [Hz]</div>
<div class="t yl" style="left:4.25px;top:273.10px">Phase Velocity [m/s]</div>
<svg class="pn" style="left:241.3px;top:196.0px" width="178.0" height="154.2" viewBox="0 0 178.0 154.2">
<defs><clipPath id="cl4"><path d="M-5,159.2 L-5,175 L35,165 L40,125 L63,116 L90,104 L120,92 L150,78 L178,62 L185,58 L183.0,159.2Z"/></clipPath></defs>
<defs><clipPath id="bd4"><path d="M-5,163 L35,153 L40,113 L63,104 L90,92 L120,80 L150,66 L178,50 L185,46 L185,66 L178,70 L150,86 L120,100 L90,112 L63,124 L40,133 L35,173 L-5,183Z"/></clipPath></defs>
<g filter="url(#cm)">
<rect width="178.0" height="154.2" fill="rgb(51,51,51)"/>
<g>
<path d="M-5,-5 L183.0,-5 L183.0,159.2 L-5,159.2Z" fill="rgb(56,56,56)" opacity="1"/>
</g>
<g>
<rect width="178.0" height="154.2" filter="url(#nvW)" opacity="1.0"/>
<rect width="178.0" height="154.2" filter="url(#nvB)" opacity="1.0"/>
</g>
<g filter="url(#bl8)">
<path d="M60,130 L90,100 L120,80 L150,60 L185,35 L185,80 L120,110Z" fill="rgb(36,36,36)" opacity="1"/>
</g>
<g filter="url(#bl5)">
<path d="M-5,159.2 L-5,125 L10,112 L30,104 L60,108 L63,116 L90,104 L120,92 L150,78 L178,62 L185,58 L183.0,159.2Z" fill="rgb(33,33,33)" opacity="1"/>
</g>
<g filter="url(#bl5)">
<path d="M-5,159.2 L-5,175 L35,165 L40,125 L63,116 L90,104 L120,92 L150,78 L178,62 L185,58 L183.0,159.2Z" fill="rgb(20,20,20)" opacity="1"/>
</g>
<g>
<rect width="178.0" height="154.2" filter="url(#nhW)" opacity="1.0" clip-path="url(#cl4)"/>
<rect width="178.0" height="154.2" filter="url(#nhB)" opacity="1.0" clip-path="url(#cl4)"/>
</g>
<g>
<rect width="178.0" height="154.2" filter="url(#nsW)" opacity="0.45" clip-path="url(#bd4)"/>
</g>
<g filter="url(#bl1_2)">
<path d="M3,156 L9,140 L18,127 L32,117 L50,110" fill="none" stroke="rgb(15,15,15)" stroke-width="2.2" stroke-linecap="round" stroke-linejoin="round" opacity="1"/>
<path d="M9,157 L20,145 L35,135 L58,127 L85,122" fill="none" stroke="rgb(15,15,15)" stroke-width="2.2" stroke-linecap="round" stroke-linejoin="round" opacity="1"/>
<path d="M17,158 L34,149 L56,141 L85,136 L115,133" fill="none" stroke="rgb(15,15,15)" stroke-width="2.2" stroke-linecap="round" stroke-linejoin="round" opacity="1"/>
<path d="M28,159 L50,153 L75,148 L105,145 L140,143" fill="none" stroke="rgb(18,18,18)" stroke-width="2" stroke-linecap="round" stroke-linejoin="round" opacity="1"/>
<path d="M1,154 L4,140 L9,125 L16,115 L28,106" fill="none" stroke="rgb(76,76,76)" stroke-width="1.6" stroke-linecap="round" stroke-linejoin="round" opacity="1"/>
<path d="M5,156 L14,142 L26,131 L45,122 L70,117" fill="none" stroke="rgb(61,61,61)" stroke-width="1.5" stroke-linecap="round" stroke-linejoin="round" opacity="1"/>
<path d="M12,157 L26,147 L45,138 L70,132 L100,128" fill="none" stroke="rgb(54,54,54)" stroke-width="1.4" stroke-linecap="round" stroke-linejoin="round" opacity="1"/>
<path d="M22,158 L40,151 L65,146 L95,142 L125,140" fill="none" stroke="rgb(48,48,48)" stroke-width="1.3" stroke-linecap="round" stroke-linejoin="round" opacity="1"/>
<path d="M145,152 L178,149.5" fill="none" stroke="rgb(71,71,71)" stroke-width="1.5" stroke-linecap="round" stroke-linejoin="round" opacity="1"/>
</g>
<g filter="url(#bl1_5)">
<path d="M21,-3 L38,-3 L39,20 L38,40 L33,45 L26,28Z" fill="rgb(15,15,15)" opacity="1"/>
<path d="M49,0 L53,20 L58,38" fill="none" stroke="rgb(18,18,18)" stroke-width="5" stroke-linecap="round" stroke-linejoin="round" opacity="1"/>
<path d="M77,0 L80,15 L84,30" fill="none" stroke="rgb(102,102,102)" stroke-width="3" stroke-linecap="round" stroke-linejoin="round" opacity="1"/>
<ellipse cx="88" cy="30" rx="2" ry="10" fill="rgb(97,97,97)" opacity="1"/>
<path d="M90,0 L92,25 L95,47" fill="none" stroke="rgb(15,15,15)" stroke-width="6" stroke-linecap="round" stroke-linejoin="round" opacity="1"/>
<path d="M118,0 L121,15 L125,28" fill="none" stroke="rgb(18,18,18)" stroke-width="5" stroke-linecap="round" stroke-linejoin="round" opacity="1"/>
<ellipse cx="136.5" cy="12" rx="2.5" ry="12" fill="rgb(18,18,18)" opacity="1"/>
<ellipse cx="147" cy="15" rx="3" ry="15" fill="rgb(23,23,23)" opacity="1"/>
<path d="M101,0 L105,20 L109,38 L111,47" fill="none" stroke="rgb(122,122,122)" stroke-width="5" stroke-linecap="round" stroke-linejoin="round" opacity="1"/>
<path d="M112,0 L113.5,15 L115,30" fill="none" stroke="rgb(128,128,128)" stroke-width="5" stroke-linecap="round" stroke-linejoin="round" opacity="1"/>
<ellipse cx="123" cy="40" rx="7" ry="8" fill="rgb(122,122,122)" opacity="1"/>
<path d="M97,48 L101,58 L104,68" fill="none" stroke="rgb(120,120,120)" stroke-width="5" stroke-linecap="round" stroke-linejoin="round" opacity="1"/>
<ellipse cx="118.6" cy="56" rx="2.5" ry="5" fill="rgb(117,117,117)" opacity="1"/>
<ellipse cx="158" cy="20" rx="4.5" ry="16" fill="rgb(115,115,115)" opacity="1"/>
<ellipse cx="175" cy="6" rx="2.5" ry="8" fill="rgb(102,102,102)" opacity="1"/>
<ellipse cx="168" cy="15" rx="3" ry="14" fill="rgb(31,31,31)" opacity="1"/>
<ellipse cx="10" cy="112" rx="3" ry="3" fill="rgb(97,97,97)" opacity="1"/>
<ellipse cx="38" cy="115" rx="3" ry="3" fill="rgb(97,97,97)" opacity="1"/>
<ellipse cx="3" cy="142" rx="1.8" ry="13" fill="rgb(107,107,107)" opacity="1"/>
<ellipse cx="90" cy="102" rx="2.5" ry="3" fill="rgb(97,97,97)" opacity="1"/>
</g>
<g filter="url(#bl2_2)">
<path d="M126,18 L135,48" fill="none" stroke="rgb(128,128,128)" stroke-width="10" stroke-linecap="round" stroke-linejoin="round" opacity="1"/>
<ellipse cx="142" cy="45" rx="6" ry="11" fill="rgb(128,128,128)" opacity="1"/>
<ellipse cx="93" cy="83" rx="6" ry="6" fill="rgb(128,128,128)" opacity="1"/>
<ellipse cx="113" cy="15" rx="5" ry="14" fill="rgb(128,128,128)" opacity="1"/>
</g>
<g filter="url(#bl1_6)">
<ellipse cx="113.5" cy="19" rx="1.5" ry="5" fill="rgb(153,153,153)" opacity="1"/>
<path d="M128,23 L134,44" fill="none" stroke="rgb(168,168,168)" stroke-width="4.5" stroke-linecap="round" stroke-linejoin="round" opacity="1"/>
<ellipse cx="142" cy="45" rx="2.8" ry="6" fill="rgb(173,173,173)" opacity="1"/>
<ellipse cx="103" cy="62" rx="1.3" ry="3" fill="rgb(153,153,153)" opacity="1"/>
<ellipse cx="88.5" cy="78.5" rx="2" ry="3" fill="rgb(168,168,168)" opacity="1"/>
<ellipse cx="158" cy="21" rx="2" ry="6" fill="rgb(128,128,128)" opacity="1"/>
</g>
<g filter="url(#bl1_8)">
<path d="M19,-2 L21,13 L23.5,27 L27,41 L29,47 L28.5,50 L32.5,54 L35,63 L37.5,71 L40.5,82 L40,90" fill="none" stroke="rgb(128,128,128)" stroke-width="3" stroke-linecap="round" stroke-linejoin="round" opacity="1"/>
<path d="M4.5,-2 L4.5,88" fill="none" stroke="rgb(133,133,133)" stroke-width="3.5" stroke-linecap="round" stroke-linejoin="round" opacity="1"/>
<path d="M44,16 L47,27 L50.5,35 L55,44 L58.5,49 L61,48.5 L65,52.5 L75,61 L79,64.5 L83,66.5 L89,74 L95,81" fill="none" stroke="rgb(128,128,128)" stroke-width="2" stroke-linecap="round" stroke-linejoin="round" opacity="1"/>
<path d="M59.5,85 L68,88.5 L78.5,92" fill="none" stroke="rgb(140,140,140)" stroke-width="4" stroke-linecap="round" stroke-linejoin="round" opacity="1"/>
<ellipse cx="40.5" cy="9" rx="3.5" ry="12" fill="rgb(128,128,128)" opacity="1"/>
</g>
<g filter="url(#bl2_8)">
<path d="M8,-3 L17.5,-3 L19.5,13.6 L22,27 L25.5,40.8 L27.5,47 L27,50 L31,53 L33,62.5 L35.5,70.7 L38,81.5 L37,86 L33,87.5 L27.5,87.5 L22,89 L16.5,88.5 L14,83 L8.5,82 L8,50 L8,20Z" fill="rgb(128,128,128)" stroke="rgb(128,128,128)" stroke-width="9" stroke-linejoin="round" opacity="1"/>
</g>
<g filter="url(#bl1_5)">
<path d="M8,-3 L17.5,-3 L19.5,13.6 L22,27 L25.5,40.8 L27.5,47 L27,50 L31,53 L33,62.5 L35.5,70.7 L38,81.5 L37,86 L33,87.5 L27.5,87.5 L22,89 L16.5,88.5 L14,83 L8.5,82 L8,50 L8,20Z" fill="rgb(199,199,199)" opacity="1"/>
</g>
<g filter="url(#bl1_8)">
<path d="M12,25 L16,25 L20,38 L22.5,50 L25,62 L27,75 L25,84 L16,84 L12,70Z" fill="rgb(242,242,242)" opacity="1"/>
</g>
<g filter="url(#bl2_8)">
<path d="M40,21 L43,21 L47.5,36.5 L53,47.5 L57.5,53 L60,52 L64,56.5 L70,61 L75,65 L78.5,68.5 L82,70.5 L88,78 L92,83 L91,84.5 L84,80.5 L77.3,78.2 L70.8,76 L62.1,71.7 L58.9,69.5 L53.4,72.8 L47,71.7 L41,65.5 L40,50Z" fill="rgb(128,128,128)" stroke="rgb(128,128,128)" stroke-width="7.4" stroke-linejoin="round" opacity="1"/>
</g>
<g filter="url(#bl1_5)">
<path d="M40,21 L43,21 L47.5,36.5 L53,47.5 L57.5,53 L60,52 L64,56.5 L70,61 L75,65 L78.5,68.5 L82,70.5 L88,78 L92,83 L91,84.5 L84,80.5 L77.3,78.2 L70.8,76 L62.1,71.7 L58.9,69.5 L53.4,72.8 L47,71.7 L41,65.5 L40,50Z" fill="rgb(199,199,199)" opacity="1"/>
</g>
<g filter="url(#bl1_8)">
<path d="M44,46 L50,50 L56,58 L57,66 L52,70 L45,66Z" fill="rgb(235,235,235)" opacity="1"/>
</g>
<g filter="url(#bl1_5)">
<ellipse cx="42" cy="29" rx="2.5" ry="8" fill="rgb(173,173,173)" opacity="1"/>
</g>
</g>

<rect x="0.25" y="0.25" width="177.5" height="153.7" fill="none" stroke="rgba(0,0,0,0.35)" stroke-width="0.5"/>
</svg>
<div class="t ttl" style="left:330.3px;top:187.02px">Iter = 4</div>
<div class="t tk xt" style="left:265.85px;top:355.10px">5</div>
<div class="t tk xt" style="left:296.54px;top:355.10px">10</div>
<div class="t tk xt" style="left:327.23px;top:355.10px">15</div>
<div class="t tk xt" style="left:357.92px;top:355.10px">20</div>
<div class="t tk xt" style="left:388.61px;top:355.10px">25</div>
<div class="t tk xt" style="left:419.30px;top:355.10px">30</div>
<div class="t tk yt" style="left:239.50px;top:335.58px">200</div>
<div class="t tk yt" style="left:239.50px;top:304.74px">400</div>
<div class="t tk yt" style="left:239.50px;top:273.90px">600</div>
<div class="t tk yt" style="left:239.50px;top:243.06px">800</div>
<div class="t tk yt" style="left:239.50px;top:212.22px">1000</div>
<div class="t xl" style="left:330.3px;top:358.88px">Frequency [Hz]</div>
<div class="t yl" style="left:217.55px;top:273.10px">Phase Velocity [m/s]</div>
<svg class="pn" style="left:454.4px;top:196.0px" width="178.0" height="154.2" viewBox="0 0 178.0 154.2">
<defs><clipPath id="cl5"><path d="M-5,159.2 L-5,175 L35,165 L40,125 L63,116 L90,104 L120,92 L150,78 L178,62 L185,58 L183.0,159.2Z"/></clipPath></defs>
<defs><clipPath id="bd5"><path d="M-5,163 L35,153 L40,113 L63,104 L90,92 L120,80 L150,66 L178,50 L185,46 L185,66 L178,70 L150,86 L120,100 L90,112 L63,124 L40,133 L35,173 L-5,183Z"/></clipPath></defs>
<g filter="url(#cm)">
<rect width="178.0" height="154.2" fill="rgb(51,51,51)"/>
<g>
<path d="M-5,-5 L183.0,-5 L183.0,159.2 L-5,159.2Z" fill="rgb(56,56,56)" opacity="1"/>
</g>
<g>
<rect width="178.0" height="154.2" filter="url(#nvW)" opacity="1.0"/>
<rect width="178.0" height="154.2" filter="url(#nvB)" opacity="1.0"/>
</g>
<g filter="url(#bl8)">
<path d="M60,130 L90,100 L120,80 L150,60 L185,35 L185,80 L120,110Z" fill="rgb(36,36,36)" opacity="1"/>
</g>
<g filter="url(#bl5)">
<path d="M-5,159.2 L-5,125 L10,112 L30,104 L60,108 L63,116 L90,104 L120,92 L150,78 L178,62 L185,58 L183.0,159.2Z" fill="rgb(33,33,33)" opacity="1"/>
</g>
<g filter="url(#bl5)">
<path d="M-5,159.2 L-5,175 L35,165 L40,125 L63,116 L90,104 L120,92 L150,78 L178,62 L185,58 L183.0,159.2Z" fill="rgb(20,20,20)" opacity="1"/>
</g>
<g>
<rect width="178.0" height="154.2" filter="url(#nhW)" opacity="1.0" clip-path="url(#cl5)"/>
<rect width="178.0" height="154.2" filter="url(#nhB)" opacity="1.0" clip-path="url(#cl5)"/>
</g>
<g>
<rect width="178.0" height="154.2" filter="url(#nsW)" opacity="0.45" clip-path="url(#bd5)"/>
</g>
<g filter="url(#bl1_2)">
<path d="M3,156 L9,140 L18,127 L32,117 L50,110" fill="none" stroke="rgb(15,15,15)" stroke-width="2.2" stroke-linecap="round" stroke-linejoin="round" opacity="1"/>
<path d="M9,157 L20,145 L35,135 L58,127 L85,122" fill="none" stroke="rgb(15,15,15)" stroke-width="2.2" stroke-linecap="round" stroke-linejoin="round" opacity="1"/>
<path d="M17,158 L34,149 L56,141 L85,136 L115,133" fill="none" stroke="rgb(15,15,15)" stroke-width="2.2" stroke-linecap="round" stroke-linejoin="round" opacity="1"/>
<path d="M28,159 L50,153 L75,148 L105,145 L140,143" fill="none" stroke="rgb(18,18,18)" stroke-width="2" stroke-linecap="round" stroke-linejoin="round" opacity="1"/>
<path d="M1,154 L4,140 L9,125 L16,115 L28,106" fill="none" stroke="rgb(76,76,76)" stroke-width="1.6" stroke-linecap="round" stroke-linejoin="round" opacity="1"/>
<path d="M5,156 L14,142 L26,131 L45,122 L70,117" fill="none" stroke="rgb(61,61,61)" stroke-width="1.5" stroke-linecap="round" stroke-linejoin="round" opacity="1"/>
<path d="M12,157 L26,147 L45,138 L70,132 L100,128" fill="none" stroke="rgb(54,54,54)" stroke-width="1.4" stroke-linecap="round" stroke-linejoin="round" opacity="1"/>
<path d="M22,158 L40,151 L65,146 L95,142 L125,140" fill="none" stroke="rgb(48,48,48)" stroke-width="1.3" stroke-linecap="round" stroke-linejoin="round" opacity="1"/>
<path d="M145,152 L178,149.5" fill="none" stroke="rgb(71,71,71)" stroke-width="1.5" stroke-linecap="round" stroke-linejoin="round" opacity="1"/>
</g>
<g filter="url(#bl1_5)">
<path d="M21,-3 L37,-3 L37.5,20 L37,40 L33,44 L27,28Z" fill="rgb(15,15,15)" opacity="1"/>
<path d="M46,0 L50,15 L55,30" fill="none" stroke="rgb(15,15,15)" stroke-width="6" stroke-linecap="round" stroke-linejoin="round" opacity="1"/>
<path d="M78,0 L81,20 L84,40" fill="none" stroke="rgb(102,102,102)" stroke-width="3" stroke-linecap="round" stroke-linejoin="round" opacity="1"/>
<ellipse cx="70" cy="20" rx="3" ry="18" fill="rgb(26,26,26)" opacity="1"/>
<path d="M90,0 L92,22 L96,42" fill="none" stroke="rgb(15,15,15)" stroke-width="6" stroke-linecap="round" stroke-linejoin="round" opacity="1"/>
<path d="M118,0 L121,12 L125,22" fill="none" stroke="rgb(18,18,18)" stroke-width="5" stroke-linecap="round" stroke-linejoin="round" opacity="1"/>
<ellipse cx="136" cy="10" rx="2.5" ry="10" fill="rgb(18,18,18)" opacity="1"/>
<ellipse cx="147" cy="12" rx="3" ry="13" fill="rgb(23,23,23)" opacity="1"/>
<path d="M101,0 L105,15 L108,30 L111,40" fill="none" stroke="rgb(122,122,122)" stroke-width="5" stroke-linecap="round" stroke-linejoin="round" opacity="1"/>
<path d="M113,0 L114,12 L116,25" fill="none" stroke="rgb(128,128,128)" stroke-width="5" stroke-linecap="round" stroke-linejoin="round" opacity="1"/>
<ellipse cx="122" cy="34" rx="6" ry="7" fill="rgb(122,122,122)" opacity="1"/>
<path d="M95.3,42 L101,55 L106.7,66.7" fill="none" stroke="rgb(115,115,115)" stroke-width="4" stroke-linecap="round" stroke-linejoin="round" opacity="1"/>
<ellipse cx="117" cy="55" rx="3" ry="5" fill="rgb(115,115,115)" opacity="1"/>
<ellipse cx="158" cy="16" rx="4.5" ry="15" fill="rgb(120,120,120)" opacity="1"/>
<ellipse cx="175" cy="5" rx="2.5" ry="7" fill="rgb(102,102,102)" opacity="1"/>
<ellipse cx="168" cy="12" rx="3" ry="13" fill="rgb(31,31,31)" opacity="1"/>
<ellipse cx="10" cy="112" rx="3" ry="3" fill="rgb(97,97,97)" opacity="1"/>
<ellipse cx="38" cy="115" rx="3" ry="3" fill="rgb(97,97,97)" opacity="1"/>
<ellipse cx="3" cy="142" rx="1.8" ry="13" fill="rgb(107,107,107)" opacity="1"/>
</g>
<g filter="url(#bl2_2)">
<path d="M126,12 L136,46" fill="none" stroke="rgb(128,128,128)" stroke-width="10" stroke-linecap="round" stroke-linejoin="round" opacity="1"/>
<ellipse cx="142" cy="40" rx="6" ry="10" fill="rgb(128,128,128)" opacity="1"/>
<ellipse cx="110.5" cy="28" rx="5.5" ry="14" fill="rgb(128,128,128)" opacity="1"/>
<ellipse cx="93" cy="83" rx="6" ry="6" fill="rgb(128,128,128)" opacity="1"/>
<ellipse cx="121" cy="38" rx="6" ry="8" fill="rgb(128,128,128)" opacity="1"/>
</g>
<g filter="url(#bl1_6)">
<path d="M109,23 L113,38" fill="none" stroke="rgb(173,173,173)" stroke-width="3.5" stroke-linecap="round" stroke-linejoin="round" opacity="1"/>
<ellipse cx="114.4" cy="14" rx="1.5" ry="6" fill="rgb(153,153,153)" opacity="1"/>
<path d="M128,17 L135,42" fill="none" stroke="rgb(178,178,178)" stroke-width="5" stroke-linecap="round" stroke-linejoin="round" opacity="1"/>
<ellipse cx="142" cy="40" rx="2.8" ry="6" fill="rgb(184,184,184)" opacity="1"/>
<ellipse cx="158" cy="17" rx="2" ry="7" fill="rgb(133,133,133)" opacity="1"/>
<ellipse cx="88.5" cy="78.5" rx="2" ry="3" fill="rgb(168,168,168)" opacity="1"/>
</g>
<g filter="url(#bl1_8)">
<path d="M20,-2 L22,13.6 L25,27 L28,40.8 L29,45 L33.5,49 L35.5,62.5 L38,71 L41,82 L40,90" fill="none" stroke="rgb(128,128,128)" stroke-width="3" stroke-linecap="round" stroke-linejoin="round" opacity="1"/>
<path d="M4.5,-2 L4.5,88" fill="none" stroke="rgb(133,133,133)" stroke-width="3.5" stroke-linecap="round" stroke-linejoin="round" opacity="1"/>
<path d="M43,-2 L44.5,13 L49.5,27 L56,40" fill="none" stroke="rgb(128,128,128)" stroke-width="3" stroke-linecap="round" stroke-linejoin="round" opacity="1"/>
<path d="M60,37 L65,43 L72,51 L80,60 L85,66 L93,75 L96,82" fill="none" stroke="rgb(128,128,128)" stroke-width="3" stroke-linecap="round" stroke-linejoin="round" opacity="1"/>
<path d="M59.5,85 L68,88.5 L78.5,92" fill="none" stroke="rgb(143,143,143)" stroke-width="4.5" stroke-linecap="round" stroke-linejoin="round" opacity="1"/>
<ellipse cx="40" cy="5" rx="3.5" ry="12" fill="rgb(133,133,133)" opacity="1"/>
</g>
<g filter="url(#bl1_5)">
<ellipse cx="40.5" cy="16" rx="2.2" ry="6" fill="rgb(163,163,163)" opacity="1"/>
</g>
<g filter="url(#bl2_8)">
<path d="M8,-3 L18.5,-3 L20.5,13.6 L23.5,27.2 L26,40.8 L26.5,45 L30.5,49 L32.5,62.5 L35.3,70.7 L38,81.5 L37,87 L33,88.5 L27.5,88.5 L22,89.5 L16.5,88.5 L14,84 L8.5,82 L8,50 L8,20Z" fill="rgb(128,128,128)" stroke="rgb(128,128,128)" stroke-width="9" stroke-linejoin="round" opacity="1"/>
</g>
<g filter="url(#bl1_5)">
<path d="M8,-3 L18.5,-3 L20.5,13.6 L23.5,27.2 L26,40.8 L26.5,45 L30.5,49 L32.5,62.5 L35.3,70.7 L38,81.5 L37,87 L33,88.5 L27.5,88.5 L22,89.5 L16.5,88.5 L14,84 L8.5,82 L8,50 L8,20Z" fill="rgb(199,199,199)" opacity="1"/>
</g>
<g filter="url(#bl1_8)">
<path d="M12,20 L16,20 L20,36 L23,50 L25.5,62 L27.5,75 L25.5,85 L16,85 L12,72Z" fill="rgb(242,242,242)" opacity="1"/>
</g>
<g filter="url(#bl2_8)">
<path d="M38.5,16 L41.5,14 L43.5,18 L47.5,27.2 L54.5,40.8 L58.5,45.5 L58.5,66 L54,64.5 L48,67 L43,68.5 L39,69.5 L38.5,50 L38.5,20Z" fill="rgb(128,128,128)" stroke="rgb(128,128,128)" stroke-width="8.0" stroke-linejoin="round" opacity="1"/>
</g>
<g filter="url(#bl1_5)">
<path d="M38.5,16 L41.5,14 L43.5,18 L47.5,27.2 L54.5,40.8 L58.5,45.5 L58.5,66 L54,64.5 L48,67 L43,68.5 L39,69.5 L38.5,50 L38.5,20Z" fill="rgb(199,199,199)" opacity="1"/>
</g>
<g filter="url(#bl1_8)">
<path d="M40,15 L44,25 L50,38 L55,50 L52,60 L42,62 L40,40Z" fill="rgb(237,237,237)" opacity="1"/>
</g>
<g filter="url(#bl2_8)">
<path d="M59,41 L63,46 L67,51 L70,54.5 L74,59 L77,62.5 L78.5,64.5 L82,69 L87,74 L92,80 L92.5,85 L90,86.5 L84,83 L78,78 L72,74 L67,70.5 L62,67 L59,65Z" fill="rgb(128,128,128)" stroke="rgb(128,128,128)" stroke-width="8.0" stroke-linejoin="round" opacity="1"/>
</g>
<g filter="url(#bl1_5)">
<path d="M59,41 L63,46 L67,51 L70,54.5 L74,59 L77,62.5 L78.5,64.5 L82,69 L87,74 L92,80 L92.5,85 L90,86.5 L84,83 L78,78 L72,74 L67,70.5 L62,67 L59,65Z" fill="rgb(199,199,199)" opacity="1"/>
</g>
<g filter="url(#bl1_8)">
<path d="M60,50 L65,55 L70,62 L66,68 L60,62Z" fill="rgb(230,230,230)" opacity="1"/>
</g>
<g filter="url(#bl1_2)">
<path d="M53.5,43 L61,44 L61.5,65 L55,66 L53.5,60Z" fill="rgb(209,209,209)" opacity="1"/>
</g>
</g>

<rect x="0.25" y="0.25" width="177.5" height="153.7" fill="none" stroke="rgba(0,0,0,0.35)" stroke-width="0.5"/>
</svg>
<div class="t ttl" style="left:543.4px;top:187.02px">Iter = 5</div>
<div class="t tk xt" style="left:478.95px;top:355.10px">5</div>
<div class="t tk xt" style="left:509.64px;top:355.10px">10</div>
<div class="t tk xt" style="left:540.33px;top:355.10px">15</div>
<div class="t tk xt" style="left:571.02px;top:355.10px">20</div>
<div class="t tk xt" style="left:601.71px;top:355.10px">25</div>
<div class="t tk xt" style="left:632.40px;top:355.10px">30</div>
<div class="t tk yt" style="left:452.60px;top:335.58px">200</div>
<div class="t tk yt" style="left:452.60px;top:304.74px">400</div>
<div class="t tk yt" style="left:452.60px;top:273.90px">600</div>
<div class="t tk yt" style="left:452.60px;top:243.06px">800</div>
<div class="t tk yt" style="left:452.60px;top:212.22px">1000</div>
<div class="t xl" style="left:543.4px;top:358.88px">Frequency [Hz]</div>
<div class="t yl" style="left:430.65px;top:273.10px">Phase Velocity [m/s]</div>
<div style="position:absolute;left:648.0px;top:182.7px;width:15.6px;height:167.3px;background:linear-gradient(to top,rgb(0,0,77) 0%,rgb(0,0,255) 25%,rgb(255,255,255) 50%,rgb(255,0,0) 75%,rgb(128,0,0) 100%);box-shadow:0 0 0 0.4px rgba(0,0,0,0.4)"></div>
<div class="t tk" style="left:665.60px;top:350.00px;transform:translate(0,-50%)">0.0</div>
<div class="t tk" style="left:665.60px;top:316.54px;transform:translate(0,-50%)">0.2</div>
<div class="t tk" style="left:665.60px;top:283.08px;transform:translate(0,-50%)">0.4</div>
<div class="t tk" style="left:665.60px;top:249.62px;transform:translate(0,-50%)">0.6</div>
<div class="t tk" style="left:665.60px;top:216.16px;transform:translate(0,-50%)">0.8</div>
<div class="t tk" style="left:665.60px;top:182.70px;transform:translate(0,-50%)">1.0</div>
<div class="t yl" style="left:679.5px;top:263.3px;font-size:7.6px">Normalized Amplitude</div>
</body></html>
